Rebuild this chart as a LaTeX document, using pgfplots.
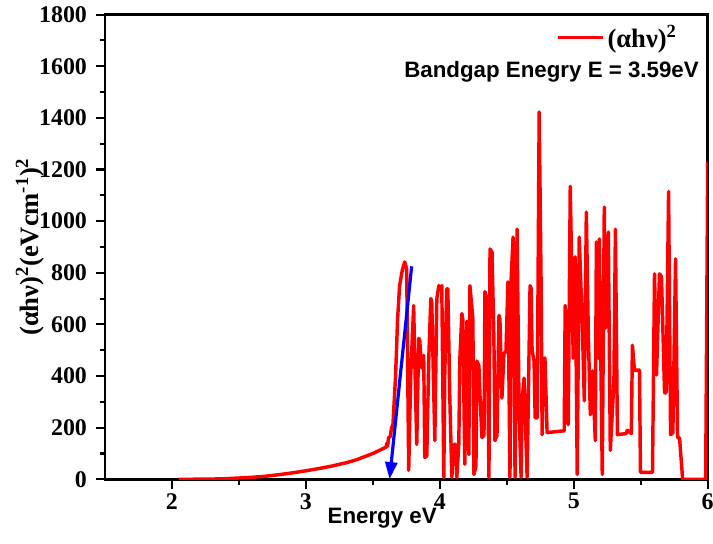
\documentclass[border=0pt]{standalone}
\usepackage{fontspec}
\setmainfont{Liberation Serif}
\newfontfamily\arialfont{Liberation Sans}
\usepackage{pgfplots}
\pgfplotsset{compat=1.18}
\usetikzlibrary{arrows.meta}

\begin{document}
\begin{tikzpicture}
\begin{axis}[
  name=ax,
  scale only axis, width=454pt, height=350pt,
  xmin=1.5, xmax=6, ymin=0, ymax=1800,
  xtick={2,3,4,5,6}, ytick={0,200,...,1800},
  minor x tick num=1, minor y tick num=1,
  tick align=outside, tick pos=left,
  axis line style={line width=2pt},
  major tick style={line width=1.6pt, black},
  minor tick style={line width=1.6pt, black},
  major tick length=7pt, minor tick length=4pt,
  /pgf/number format/assume math mode=true,
  /pgf/number format/1000 sep={},
  tick label style={font=\bfseries\fontsize{18}{20}\selectfont},
  yticklabel style={xshift=-3pt},
  xlabel={\arialfont\bfseries\fontsize{16.8}{18}\selectfont Energy eV},
  xlabel style={at={(axis description cs:0.46,-0.083)}, anchor=center},
  ylabel={\bfseries\fontsize{20}{22}\selectfont ({α}h{ν})\textsuperscript{2}(eVcm\textsuperscript{-1})\textsuperscript{2}},
  ylabel style={at={(axis description cs:-0.1245,0.5)}, anchor=center},
  legend style={draw=none, fill=none, at={(0.96,0.951)}, anchor=east,
    font=\bfseries\fontsize{20}{22}\selectfont},
  legend image code/.code={\draw[#1] (0cm,0cm) -- (1.2cm,0cm);},
]
\addplot[red, line width=2.6pt, line join=round] coordinates {
(2.05,0) (2.2,0.5) (2.3,1) (2.4,2.5) (2.5,5) (2.6,8) (2.7,12) (2.8,18) (2.9,25)
(3.0,33) (3.1,42) (3.2,52) (3.3,64) (3.38,76) (3.45,90) (3.5,100) (3.55,112)
(3.6,125) (3.605,140) (3.61,128) (3.618,162) (3.63,165) (3.64,200) (3.65,210)
(3.67,400) (3.685,620) (3.70,750) (3.72,810) (3.738,842) (3.753,815) (3.768,35)
(3.783,400) (3.805,673) (3.813,469) (3.828,135) (3.843,546) (3.850,540) (3.865,431)
(3.880,480) (3.888,85) (3.903,90) (3.918,469) (3.933,700) (3.940,690) (3.963,150)
(3.978,700) (3.993,750) (4.007,740) (4.015,750) (4.030,8) (4.037,400) (4.052,738)
(4.060,738) (4.075,315) (4.090,8) (4.105,135) (4.120,135) (4.127,8) (4.142,135)
(4.150,469) (4.165,642) (4.172,620) (4.187,58) (4.202,612) (4.217,96) (4.225,750)
(4.247,623) (4.255,19) (4.270,50) (4.277,458) (4.292,440) (4.300,327) (4.315,162)
(4.330,170) (4.337,727) (4.352,700) (4.367,8) (4.375,892) (4.390,880) (4.404,546)
(4.412,150) (4.427,170) (4.442,635) (4.449,620) (4.464,315) (4.479,488) (4.494,495)
(4.509,765) (4.524,8) (4.532,765) (4.547,938) (4.562,8) (4.577,969) (4.592,265)
(4.607,8) (4.614,300) (4.629,392) (4.652,8) (4.674,750) (4.682,740) (4.689,500)
(4.704,458) (4.712,238) (4.727,238) (4.742,1423) (4.757,727) (4.764,173)
(4.772,462) (4.785,470) (4.801,181) (4.929,188)
(4.936,673) (4.959,212) (4.974,1135) (4.996,469) (5.011,862) (5.026,19) (5.041,938)
(5.064,596) (5.079,304) (5.094,1035) (5.109,558) (5.124,250) (5.14,420) (5.161,150)
(5.169,919) (5.184,469) (5.191,931) (5.213,19) (5.228,1054) (5.236,585) (5.258,958)
(5.273,112) (5.30,381) (5.311,969) (5.326,173) (5.39,177) (5.40,190) (5.43,177)
(5.438,519) (5.453,423) (5.491,423) (5.498,27) (5.588,27) (5.603,796) (5.618,404)
(5.64,796) (5.655,785) (5.678,335) (5.69,335) (5.708,1115) (5.723,173) (5.74,180)
(5.76,854) (5.775,162) (5.79,160) (5.813,0) (5.985,0) (6.0,1230)
};
\addlegendentry{({α}h{ν})\textsuperscript{2}}
\addplot[blue, line width=2.4pt, -{Triangle[width=9pt,length=13pt]}, forget plot]
  coordinates {(3.79,825) (3.625,0)};
\node[anchor=east, font=\arialfont\bfseries\fontsize{16.8}{18}\selectfont]
  at (rel axis cs:0.993,0.876) {Bandgap Enegry E = 3.59eV};
\end{axis}
\pgfresetboundingbox
\path[use as bounding box] ([xshift=-79pt,yshift=-48pt]ax.south west) rectangle ([xshift=4pt,yshift=11pt]ax.north east);
\end{tikzpicture}
\end{document}
